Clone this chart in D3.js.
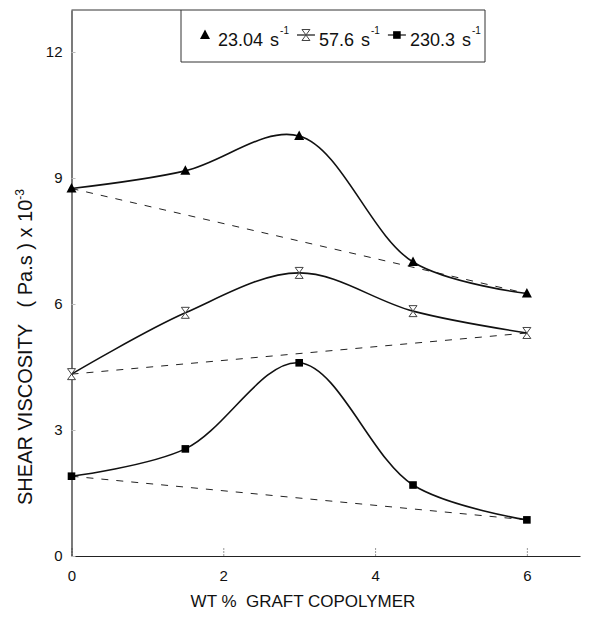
<!DOCTYPE html>
<html>
<head>
<meta charset="utf-8">
<script src="https://cdn.jsdelivr.net/npm/d3@7"></script>
<style>
  html, body { margin: 0; padding: 0; background: #fff; }
  svg { display: block; font-family: "Liberation Sans", Arial, Helvetica, sans-serif; }
</style>
</head>
<body>
<svg id="chart" width="600" height="622"></svg>
<script>
// Graft copolymer content (wt %) and shear viscosity (Pa.s x 10^-3) at three shear rates
const copolymerWt = [0, 1.5, 3, 4.5, 6];
const viscosity23 = [8.75, 9.17, 10.0, 7.0, 6.25];
const viscosity57 = [4.33, 5.79, 6.74, 5.83, 5.31];
const viscosity230 = [1.9, 2.55, 4.6, 1.69, 0.86];
const shearRates = ["23.04", "57.6", "230.3"];
const markerKinds = ["triangle", "hourglass", "square"];
const xTickValues = [0, 2, 4, 6];
const yTickValues = [0, 3, 6, 9, 12];

const series = [viscosity23, viscosity57, viscosity230].map((vals, i) => ({
  rate: shearRates[i],
  marker: markerKinds[i],
  points: copolymerWt.map((w, j) => ({ x: w, y: vals[j] }))
}));

const svg = d3.select("#chart");
const x = d3.scaleLinear().domain([0, 6.7]).range([71.5, 580]);
const y = d3.scaleLinear().domain([0, 13]).range([556, 10]);

// axes
const xAxis = svg.append("g")
  .attr("transform", `translate(0,${y(0)})`)
  .call(d3.axisBottom(x).tickValues(xTickValues).tickFormat(d3.format("d"))
    .tickSizeInner(-8).tickSizeOuter(0).tickPadding(14));
xAxis.select(".domain").attr("stroke", "#222").attr("stroke-width", 1.2);
xAxis.selectAll(".tick line").attr("stroke", "#999").attr("stroke-dasharray", "2,1");
xAxis.selectAll(".tick text").attr("font-size", 15).attr("fill", "#111").attr("font-family", null);

const yAxis = svg.append("g")
  .attr("transform", `translate(${x(0)},0)`)
  .call(d3.axisLeft(y).tickValues(yTickValues).tickFormat(d3.format("d"))
    .tickSizeInner(-4).tickSizeOuter(0).tickPadding(9));
yAxis.select(".domain").attr("stroke", "#222").attr("stroke-width", 1.2);
yAxis.selectAll(".tick line").attr("stroke", "#bbb");
yAxis.selectAll(".tick text").attr("font-size", 15).attr("fill", "#111").attr("font-family", null);

// top frame line
svg.append("line")
  .attr("x1", x(0)).attr("x2", 485).attr("y1", y(13)).attr("y2", y(13))
  .attr("stroke", "#333").attr("stroke-width", 1);

// straight dashed baselines joining the end points of each series
const baseline = d3.line().x(d => x(d.x)).y(d => y(d.y));
svg.append("g").selectAll("path")
  .data(series)
  .join("path")
  .attr("d", s => baseline([s.points[0], s.points[s.points.length - 1]]))
  .attr("fill", "none")
  .attr("stroke", "#222")
  .attr("stroke-width", 1)
  .attr("stroke-dasharray", "7,8");

// smooth curves through the measured points
const curve = d3.line().x(d => x(d.x)).y(d => y(d.y)).curve(d3.curveCatmullRom.alpha(0.5));
svg.append("g").selectAll("path")
  .data(series)
  .join("path")
  .attr("d", s => curve(s.points))
  .attr("fill", "none")
  .attr("stroke", "#111")
  .attr("stroke-width", 1.6);

// marker shapes
function drawMarker(sel, kind) {
  if (kind === "triangle") {
    sel.append("path").attr("d", "M0,-5.5L5,4L-5,4Z").attr("fill", "#000");
  } else if (kind === "square") {
    sel.append("rect").attr("x", -3.8).attr("y", -3.8).attr("width", 7.6).attr("height", 7.6).attr("fill", "#000");
  } else {
    sel.append("path").attr("d", "M-4,-5.5H4L-4,5.5H4Z")
      .attr("fill", "#fff").attr("stroke", "#444").attr("stroke-width", 1);
  }
}

series.forEach(s => {
  svg.append("g").selectAll("g")
    .data(s.points)
    .join("g")
    .attr("transform", d => `translate(${x(d.x)},${y(d.y)})`)
    .each(function () { drawMarker(d3.select(this), s.marker); });
});

// axis titles
svg.append("text")
  .attr("x", 303).attr("y", 607)
  .attr("text-anchor", "middle")
  .attr("font-size", 17)
  .attr("fill", "#111")
  .style("white-space", "pre")
  .text("WT %  GRAFT COPOLYMER");

const yTitle = svg.append("text")
  .attr("transform", "translate(32,347) rotate(-90)")
  .attr("text-anchor", "middle")
  .attr("font-size", 20)
  .attr("fill", "#111")
  .style("white-space", "pre");
yTitle.append("tspan").text("SHEAR VISCOSITY   ( Pa.s ) x 10");
yTitle.append("tspan").attr("font-size", 12).attr("dy", -8).text("-3");

// legend
const legend = svg.append("g");
legend.append("path")
  .attr("d", "M181,10V62H485V10")
  .attr("fill", "none").attr("stroke", "#333").attr("stroke-width", 1);

let cursor = 197;
const legendY = 40;
series.forEach((s, i) => {
  const g = legend.append("g");
  if (i > 0) {
    g.append("line").attr("x1", cursor - 1).attr("x2", cursor + 17)
      .attr("y1", legendY - 5).attr("y2", legendY - 5)
      .attr("stroke", "#111").attr("stroke-width", 1.2);
  }
  const m = g.append("g").attr("transform", `translate(${cursor + 8},${legendY - 5})`);
  drawMarker(m, s.marker);
  cursor += 21;
  const t = g.append("text").attr("x", cursor).attr("y", legendY + 6)
    .attr("font-size", 18).attr("fill", "#111").text(s.rate);
  cursor += t.node().getComputedTextLength() + 7;
  const u = g.append("text").attr("x", cursor).attr("y", legendY + 6)
    .attr("font-size", 18).attr("fill", "#111").text("s");
  cursor += u.node().getComputedTextLength() + 1;
  const sup = g.append("text").attr("x", cursor).attr("y", legendY - 6)
    .attr("font-size", 10).attr("fill", "#111").text("-1");
  cursor += sup.node().getComputedTextLength() + 9;
});
</script>
</body>
</html>
